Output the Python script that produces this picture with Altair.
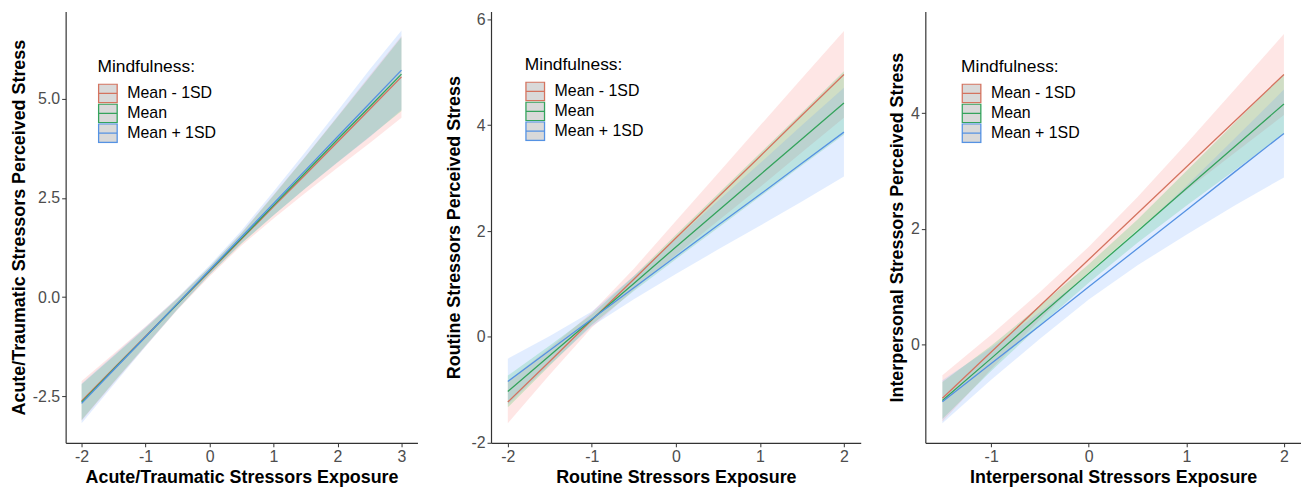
import altair as alt
import pandas as pd

groups = ["Mean - 1SD", "Mean", "Mean + 1SD"]
line_colors = ["#d4735f", "#34a35c", "#5592e3"]
# band fill scale uses its own domain order (keeps its disabled legend separate)
band_groups = ["Mean", "Mean - 1SD", "Mean + 1SD"]
band_colors = ["#00BA38", "#F8766D", "#619CFF"]

# Panel 1: Acute/Traumatic
p1_x = [-2, -1.5, -1, -0.5, 0, 0.5, 1, 1.5, 2, 2.5, 3]
p1_y = {
    "Mean - 1SD": [-2.62, -1.80, -0.99, -0.17, 0.64, 1.46, 2.28, 3.09, 3.91, 4.73, 5.55],
    "Mean": [-2.65, -1.82, -1.00, -0.17, 0.66, 1.48, 2.31, 3.14, 3.97, 4.79, 5.62],
    "Mean + 1SD": [-2.68, -1.84, -1.00, -0.16, 0.68, 1.52, 2.36, 3.20, 4.04, 4.88, 5.72],
}
p1_lo = {
    "Mean - 1SD": [-3.12, -2.17, -1.24, -0.32, 0.52, 1.30, 1.98, 2.63, 3.26, 3.88, 4.52],
    "Mean": [-3.10, -2.15, -1.22, -0.30, 0.56, 1.35, 2.06, 2.74, 3.40, 4.04, 4.69],
    "Mean + 1SD": [-3.18, -2.21, -1.25, -0.31, 0.56, 1.36, 2.06, 2.74, 3.39, 4.03, 4.72],
}
p1_hi = {
    "Mean - 1SD": [-2.12, -1.43, -0.74, -0.02, 0.76, 1.62, 2.58, 3.55, 4.56, 5.58, 6.58],
    "Mean": [-2.20, -1.49, -0.78, -0.04, 0.76, 1.61, 2.56, 3.54, 4.54, 5.54, 6.55],
    "Mean + 1SD": [-2.18, -1.47, -0.75, -0.01, 0.80, 1.68, 2.66, 3.66, 4.69, 5.73, 6.72],
}

# Panel 2: Routine
p2_x = [-2, -1.5, -1, -0.5, 0, 0.5, 1, 1.5, 2]
p2_y = {
    "Mean - 1SD": [-1.23, -0.46, 0.32, 1.09, 1.87, 2.64, 3.41, 4.19, 4.96],
    "Mean": [-1.03, -0.35, 0.33, 1.01, 1.70, 2.38, 3.06, 3.74, 4.42],
    "Mean + 1SD": [-0.84, -0.25, 0.34, 0.93, 1.52, 2.11, 2.69, 3.28, 3.87],
}
p2_lo = {
    "Mean - 1SD": [-1.63, -0.71, 0.18, 0.89, 1.55, 2.19, 2.83, 3.49, 4.14],
    "Mean": [-1.33, -0.54, 0.23, 0.87, 1.47, 2.06, 2.65, 3.24, 3.82],
    "Mean + 1SD": [-1.27, -0.52, 0.20, 0.71, 1.19, 1.65, 2.10, 2.56, 3.03],
}
p2_hi = {
    "Mean - 1SD": [-0.83, -0.21, 0.46, 1.29, 2.19, 3.09, 3.99, 4.89, 5.78],
    "Mean": [-0.73, -0.16, 0.43, 1.15, 1.93, 2.70, 3.47, 4.24, 5.02],
    "Mean + 1SD": [-0.41, 0.02, 0.48, 1.15, 1.85, 2.57, 3.28, 4.00, 4.71],
}

# Panel 3: Interpersonal
p3_x = [-1.5, -1, -0.5, 0, 0.5, 1, 1.5, 2]
p3_y = {
    "Mean - 1SD": [-0.93, -0.13, 0.67, 1.47, 2.27, 3.07, 3.87, 4.67],
    "Mean": [-0.97, -0.24, 0.50, 1.23, 1.96, 2.70, 3.43, 4.16],
    "Mean + 1SD": [-0.99, -0.33, 0.33, 1.00, 1.66, 2.32, 2.99, 3.65],
}
p3_lo = {
    "Mean - 1SD": [-1.33, -0.43, 0.43, 1.25, 1.99, 2.67, 3.32, 3.97],
    "Mean": [-1.29, -0.46, 0.33, 1.07, 1.76, 2.40, 3.02, 3.64],
    "Mean + 1SD": [-1.36, -0.61, 0.10, 0.78, 1.37, 1.90, 2.41, 2.89],
}
p3_hi = {
    "Mean - 1SD": [-0.53, 0.17, 0.91, 1.69, 2.55, 3.47, 4.42, 5.37],
    "Mean": [-0.65, -0.02, 0.67, 1.39, 2.16, 3.00, 3.84, 4.68],
    "Mean + 1SD": [-0.62, -0.05, 0.56, 1.22, 1.95, 2.74, 3.57, 4.41],
}

FONT = "Liberation Sans"
SYMBOL = "M-1,-1H1V1H-1Z M-1,0H1"
MINUS_FIX = "replace(datum.label, '\u2212', '-')"


def build_df(xs, ys, los, his):
    rows = []
    for g in groups:
        for i, xv in enumerate(xs):
            rows.append({"x": xv, "y": ys[g][i], "lo": los[g][i], "hi": his[g][i], "g": g})
    return pd.DataFrame(rows)


def panel(df, xdom, ydom, xticks, yticks, yfmt, xtitle, ytitle, w, h, lx, ly, ytp):
    base = alt.Chart(df)
    xenc = alt.X("x:Q", scale=alt.Scale(domain=xdom, nice=False, zero=False),
                 axis=alt.Axis(values=xticks, format="d", title=xtitle, labelExpr=MINUS_FIX))
    yaxis = alt.Axis(values=yticks, format=yfmt, title=ytitle, labelExpr=MINUS_FIX,
                     titlePadding=ytp)
    band = base.mark_area(opacity=0.18).encode(
        x=xenc,
        y=alt.Y("lo:Q", scale=alt.Scale(domain=ydom, nice=False, zero=False), axis=yaxis),
        y2="hi:Q",
        fill=alt.Fill("g:N", scale=alt.Scale(domain=band_groups, range=band_colors), legend=None),
        detail="g:N",
    )
    line = base.mark_line(strokeWidth=1.3).encode(
        x=xenc,
        y=alt.Y("y:Q", scale=alt.Scale(domain=ydom, nice=False, zero=False), axis=yaxis),
        color=alt.Color("g:N", scale=alt.Scale(domain=groups, range=line_colors),
                        legend=alt.Legend(
                            title="Mindfulness:", orient="none", legendX=lx, legendY=ly,
                            titleFontSize=17.5, titleFontWeight="normal", titleColor="black",
                            titleFont=FONT, labelFont=FONT,
                            labelFontSize=16, labelColor="black", labelOffset=9,
                            symbolType=SYMBOL, symbolSize=350, symbolFillColor="#d9d9d9",
                            symbolStrokeWidth=1.3, clipHeight=20, rowPadding=0,
                            titlePadding=8, padding=0,
                        )),
    )
    return (band + line).properties(width=w, height=h)


df1 = build_df(p1_x, p1_y, p1_lo, p1_hi)
df2 = build_df(p2_x, p2_y, p2_lo, p2_hi)
df3 = build_df(p3_x, p3_y, p3_lo, p3_hi)

c1 = panel(df1, [-2.25, 3.25], [-3.675, 7.2], [-2, -1, 0, 1, 2, 3], [-2.5, 0, 2.5, 5.0], ".1f",
           "Acute/Traumatic Stressors Exposure", "Acute/Traumatic Stressors Perceived Stress",
           354, 434, 32, 47, 4)
c2 = panel(df2, [-2.2, 2.2], [-2.0, 6.15], [-2, -1, 0, 1, 2], [-2, 0, 2, 4, 6], "d",
           "Routine Stressors Exposure", "Routine Stressors Perceived Stress",
           372, 434, 34, 45, 7)
c3 = panel(df3, [-1.675, 2.175], [-1.70, 5.76], [-1, 0, 1, 2], [0, 2, 4], "d",
           "Interpersonal Stressors Exposure", "Interpersonal Stressors Perceived Stress",
           378, 434, 36, 47, 4)

chart = alt.hconcat(c1, c2, c3, spacing=28).resolve_scale(
    x="independent", y="independent", color="independent", fill="independent"
).resolve_legend(color="independent").properties(
    padding={"left": 2, "top": 1, "right": 0, "bottom": 0}
).configure(font=FONT).configure_view(stroke=None).configure_axis(
    grid=False, domainColor="#333333", domainWidth=1.2, tickColor="#333333", tickSize=4,
    labelFontSize=16, labelColor="#4d4d4d", labelFont=FONT, labelPadding=2,
    titleFontSize=18, titleFontWeight="bold", titleColor="black", titleFont=FONT, titlePadding=4,
)

chart.save("out.html", embed_options={"renderer": "svg", "actions": False})
